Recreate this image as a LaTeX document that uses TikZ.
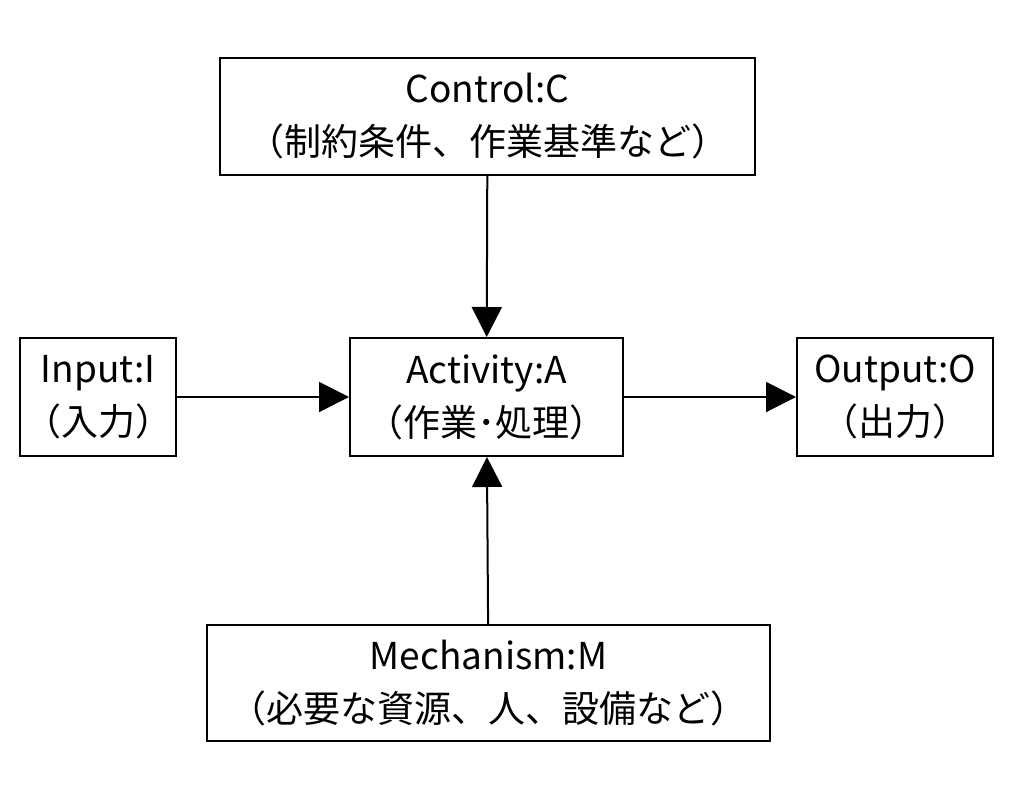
\documentclass[tikz,border=0pt]{standalone}
\usepackage{fontspec}
\setmainfont{Noto Sans CJK JP}
\usetikzlibrary{arrows.meta}
\begin{document}
\begin{tikzpicture}[x=1pt,y=-1pt,
  box/.style={draw,line width=2pt,inner sep=0pt,align=center,font=\fontsize{37}{53}\selectfont},
  arr/.style={line width=2pt,-{Triangle[length=30pt,width=30pt]}}]
\useasboundingbox (0,0) rectangle (1024,803);
\node[box,minimum width=535pt,minimum height=117pt] (c) at (487.5,116.5) {Control:C\\（制約条件、作業基準など）};
\node[box,minimum width=156pt,minimum height=118pt] (i) at (98,397) {Input:I\\（入力）};
\node[box,minimum width=273pt,minimum height=118pt] (a) at (486.5,397) {Activity:A\\（作業･処理）};
\node[box,minimum width=196pt,minimum height=118pt] (o) at (895,397) {Output:O\\（出力）};
\node[box,minimum width=563pt,minimum height=116pt] (m) at (488.5,683) {Mechanism:M\\（必要な資源、人、設備など）};
\draw[arr] (c) -- (a);
\draw[arr] (m) -- (a);
\draw[arr] (i) -- (a);
\draw[arr] (a) -- (o);
\end{tikzpicture}
\end{document}
